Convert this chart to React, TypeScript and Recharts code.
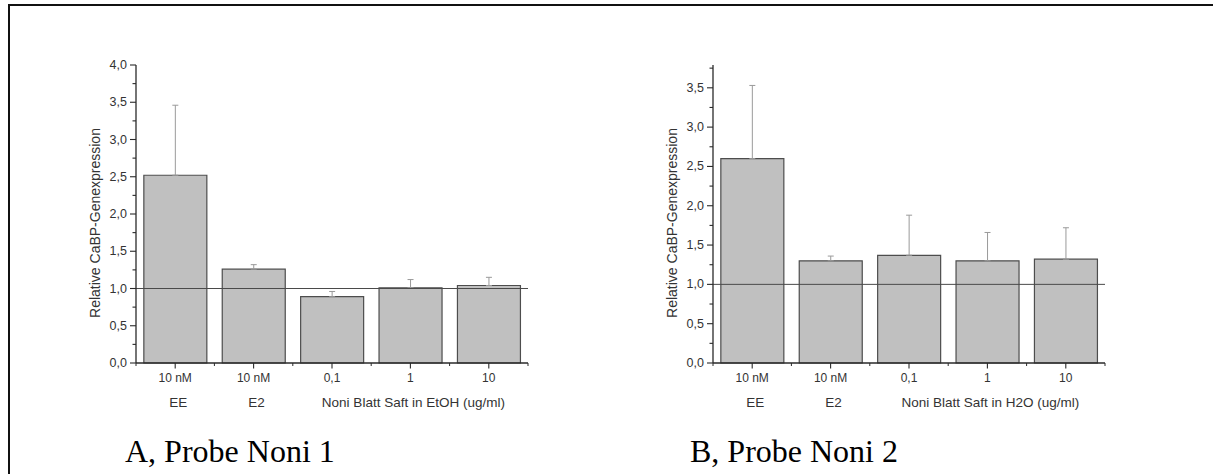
import React from "react";
import { BarChart, Bar, XAxis, YAxis, ErrorBar, ReferenceLine, Label } from "recharts";

// values
const doseLabels = ["10 nM", "10 nM", "0,1", "1", "10"];
const groupLabelsA = ["EE", "E2", "", "Noni Blatt Saft in EtOH (ug/ml)", ""];
const groupLabelsB = ["EE", "E2", "", "Noni Blatt Saft in H2O (ug/ml)", ""];

const meansA = [2.52, 1.26, 0.89, 1.01, 1.04];
const errA = [0.94, 0.06, 0.07, 0.11, 0.11];
const meansB = [2.6, 1.3, 1.37, 1.3, 1.32];
const errB = [0.93, 0.06, 0.51, 0.36, 0.4];

const yTicksA = [0, 0.25, 0.5, 0.75, 1, 1.25, 1.5, 1.75, 2, 2.25, 2.5, 2.75, 3, 3.25, 3.5, 3.75, 4];
const yTicksB = [0, 0.25, 0.5, 0.75, 1, 1.25, 1.5, 1.75, 2, 2.25, 2.5, 2.75, 3, 3.25, 3.5, 3.75];

const yLabel = "Relative CaBP-Genexpression";

const FONT = "'Liberation Sans', Arial, sans-serif";
const TXT = "#333";
const AXIS = "#2a2a2a";

const CHART_W = 560;
const CHART_H = 474;
const MARGIN = { top: 65, right: 32, bottom: 61, left: 66 };
const Y_AXIS_W = 70;
const PLOT_LEFT = MARGIN.left + Y_AXIS_W;
const BAND = (CHART_W - PLOT_LEFT - MARGIN.right) / doseLabels.length;

function buildRows(means: number[], errs: number[]) {
  return means.map((m, i) => ({ id: String(i), value: m, err: [0, errs[i]] }));
}

const YTick = (props: any) => {
  const { x, y, payload } = props;
  const v = payload.value as number;
  const major = Math.abs(v * 2 - Math.round(v * 2)) < 1e-6;
  return (
    <g>
      <line x1={x} x2={x - (major ? 6 : 3.5)} y1={y} y2={y} stroke={AXIS} strokeWidth={1.1} />
      {major && (
        <text
          x={x - 9}
          y={y}
          textAnchor="end"
          dominantBaseline="central"
          fontFamily={FONT}
          fontSize={12.5}
          fill={TXT}
        >
          {v.toFixed(1).replace(".", ",")}
        </text>
      )}
    </g>
  );
};

const makeXTick = (groups: string[]) => (props: any) => {
  const { x, y, index } = props;
  const last = index === doseLabels.length - 1;
  return (
    <g>
      <line x1={x} x2={x} y1={y} y2={y + 5.5} stroke={AXIS} strokeWidth={1.1} />
      <line x1={x - BAND / 2} x2={x - BAND / 2} y1={y} y2={y + 3} stroke={AXIS} strokeWidth={1} />
      {last && (
        <line x1={x + BAND / 2} x2={x + BAND / 2} y1={y} y2={y + 3} stroke={AXIS} strokeWidth={1} />
      )}
      <text
        x={x}
        y={y + 15}
        textAnchor="middle"
        dominantBaseline="central"
        fontFamily={FONT}
        fontSize={12}
        fill={TXT}
      >
        {doseLabels[index]}
      </text>
      {groups[index] && (
        <text
          x={x + 3}
          y={y + 39}
          textAnchor="middle"
          dominantBaseline="central"
          fontFamily={FONT}
          fontSize={13.5}
          fill={TXT}
        >
          {groups[index]}
        </text>
      )}
    </g>
  );
};

const renderYLabel = () => (
  <text
    x={PLOT_LEFT - 41}
    y={223}
    transform={`rotate(-90, ${PLOT_LEFT - 41}, 223)`}
    textAnchor="middle"
    dominantBaseline="central"
    fontFamily={FONT}
    fontSize={14}
    fill={TXT}
  >
    {yLabel}
  </text>
);

function Panel({
  means,
  errs,
  groups,
  yTicks,
  yMax,
}: {
  means: number[];
  errs: number[];
  groups: string[];
  yTicks: number[];
  yMax: number;
}) {
  const data = buildRows(means, errs);
  return (
    <BarChart width={CHART_W} height={CHART_H} data={data} margin={MARGIN} barCategoryGap="10%">
      <XAxis
        dataKey="id"
        height={50}
        interval={0}
        tickLine={false}
        tickSize={0}
        tickMargin={0}
        axisLine={{ stroke: AXIS, strokeWidth: 1.3 }}
        tick={makeXTick(groups)}
      />
      <YAxis
        width={Y_AXIS_W}
        type="number"
        domain={[0, yMax]}
        ticks={yTicks}
        interval={0}
        tickLine={false}
        tickSize={0}
        tickMargin={0}
        axisLine={{ stroke: AXIS, strokeWidth: 1.3 }}
        tick={<YTick />}
      >
        <Label content={renderYLabel} />
      </YAxis>
      <Bar dataKey="value" fill="#c0c0c0" stroke="#4d4d4d" strokeWidth={1.2} isAnimationActive={false}>
        <ErrorBar dataKey="err" direction="y" width={3} stroke="#9a9a9a" strokeWidth={1} isAnimationActive={false} />
      </Bar>
      <ReferenceLine y={1} stroke="#4a4a4a" strokeWidth={1} />
    </BarChart>
  );
}

const captionStyle: React.CSSProperties = {
  position: "absolute",
  top: 435,
  fontFamily: "'Liberation Serif', 'Times New Roman', serif",
  fontSize: 32,
  lineHeight: "32px",
  color: "#000",
  whiteSpace: "nowrap",
};

export default function App() {
  return (
    <div
      style={{
        position: "absolute",
        left: 0,
        top: 0,
        width: 1213,
        height: 474,
        overflow: "hidden",
        background: "#fff",
      }}
    >
      <div
        style={{
          position: "absolute",
          left: 8,
          top: 4,
          width: 1220,
          height: 480,
          borderTop: "2px solid #111",
          borderLeft: "2px solid #111",
        }}
      />
      <div style={{ position: "absolute", left: 0, top: 0 }}>
        <Panel means={meansA} errs={errA} groups={groupLabelsA} yTicks={yTicksA} yMax={4} />
      </div>
      <div style={{ position: "absolute", left: 577, top: 0 }}>
        <Panel means={meansB} errs={errB} groups={groupLabelsB} yTicks={yTicksB} yMax={3.79} />
      </div>
      <div style={{ ...captionStyle, left: 125 }}>A, Probe Noni 1</div>
      <div style={{ ...captionStyle, left: 690 }}>B, Probe Noni 2</div>
    </div>
  );
}
